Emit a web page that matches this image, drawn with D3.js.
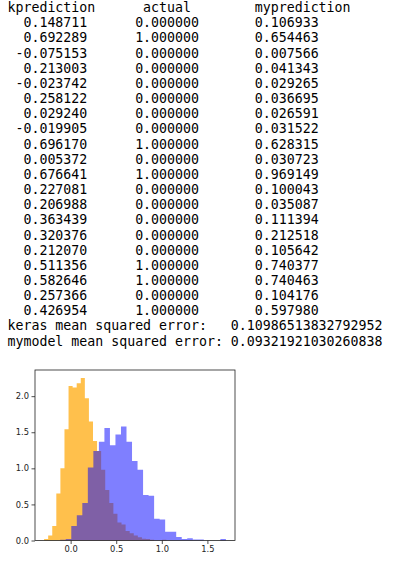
<!DOCTYPE html>
<html><head><meta charset="utf-8">
<script src="https://cdn.jsdelivr.net/npm/d3@7"></script>
<style>html,body{margin:0;padding:0;background:#fff;} svg{display:block;}</style>
</head><body><div id="chart"></div>
<script>
// ---- printed table data ----
const kprediction = [0.148711, 0.692289, -0.075153, 0.213003, -0.023742, 0.258122, 0.029240, -0.019905, 0.696170, 0.005372, 0.676641, 0.227081, 0.206988, 0.363439, 0.320376, 0.212070, 0.511356, 0.582646, 0.257366, 0.426954];
const actual = [0, 1, 0, 0, 0, 0, 0, 0, 1, 0, 1, 0, 0, 0, 0, 0, 1, 1, 0, 1];
const myprediction = [0.106933, 0.654463, 0.007566, 0.041343, 0.029265, 0.036695, 0.026591, 0.031522, 0.628315, 0.030723, 0.969149, 0.100043, 0.035087, 0.111394, 0.212518, 0.105642, 0.740377, 0.740463, 0.104176, 0.597980];
const columnNames = ["kprediction", "actual", "myprediction"];
const kerasMSE = "0.10986513832792952";
const mymodelMSE = "0.09321921030260838";

// ---- histogram data (density, 30 bins each) ----
const orangeRange = [-0.291, 1.050];
const orangeDensity = [0.02, 0.07, 0.20, 0.65, 1.00, 1.54, 2.14, 2.12, 2.18, 2.25,
                       1.97, 1.65, 1.38, 1.24, 0.98, 0.70, 0.52, 0.37, 0.25, 0.22,
                       0.13, 0.10, 0.07, 0.045, 0.025, 0.02, 0.01, 0, 0, 0.01];
const blueRange = [-0.114, 1.703];
const blueDensity = [0.01, 0.02, 0.20, 0.35, 0.52, 1.01, 1.24, 1.37, 1.56, 1.32,
                     1.47, 1.58, 1.37, 1.10, 0.98, 0.63, 0.62, 0.30, 0.29, 0.12,
                     0.12, 0.05, 0.02, 0.03, 0.015, 0.015, 0, 0, 0, 0.02];
const xTicks = [0, 0.5, 1.0, 1.5];
const yTicks = [0, 0.5, 1.0, 1.5, 2.0];

const W = 399, H = 564;
const svg = d3.select("#chart").append("svg").attr("width", W).attr("height", H);

// ---- text block ----
const lh = 15.16, base0 = 12.1, tx = 7.5;
const lines = [];
lines.push(columnNames[0] + " ".repeat(6) + columnNames[1] + " ".repeat(8) + columnNames[2]);
for (let i = 0; i < kprediction.length; i++) {
  lines.push(kprediction[i].toFixed(6).padStart(10) + " ".repeat(6) + actual[i].toFixed(6) + " ".repeat(7) + myprediction[i].toFixed(6));
}
lines.push("keras mean squared error:   " + kerasMSE);
lines.push("mymodel mean squared error: " + mymodelMSE);

svg.append("g").selectAll("text").data(lines).join("text")
  .attr("x", tx).attr("y", (d, i) => base0 + i * lh)
  .attr("xml:space", "preserve")
  .style("white-space", "pre")
  .attr("font-family", "'DejaVu Sans Mono', monospace")
  .attr("font-size", 13.25)
  .attr("fill", "#000")
  .text(d => d);

// ---- histogram ----
const L = 35, R = 235, T = 370, B = 540.5;
const lo = Math.min(orangeRange[0], blueRange[0]);
const hi = Math.max(orangeRange[1], blueRange[1]);
const pad = 0.05 * (hi - lo);
const x = d3.scaleLinear().domain([lo - pad, hi + pad]).range([L, R]);
const ymax = d3.max(orangeDensity.concat(blueDensity)) * 1.05;
const y = d3.scaleLinear().domain([0, ymax]).range([B, T]);

function stepData(range, dens) {
  const n = dens.length;
  return d3.range(n + 1).map(i => ({
    e: range[0] + (range[1] - range[0]) * i / n,
    h: i < n ? dens[i] : 0
  }));
}
const area = d3.area().curve(d3.curveStepAfter)
  .x(d => x(d.e)).y0(y(0)).y1(d => y(d.h));

svg.append("path").datum(stepData(orangeRange, orangeDensity))
  .attr("d", area).attr("fill", "orange").attr("fill-opacity", 0.7);
svg.append("path").datum(stepData(blueRange, blueDensity))
  .attr("d", area).attr("fill", "blue").attr("fill-opacity", 0.5);

// axes
const xAxis = d3.axisBottom(x).tickValues(xTicks).tickFormat(d3.format(".1f")).tickSize(3.5).tickPadding(2.5);
const yAxis = d3.axisLeft(y).tickValues(yTicks).tickFormat(d3.format(".1f")).tickSize(3.5).tickPadding(2.5);
const gx = svg.append("g").attr("transform", `translate(0,${B})`).call(xAxis);
const gy = svg.append("g").attr("transform", `translate(${L},0)`).call(yAxis);
[gx, gy].forEach(g => {
  g.select(".domain").remove();
  g.selectAll(".tick line").attr("stroke", "#222").attr("stroke-width", 0.8);
  g.selectAll(".tick text").attr("font-family", "'DejaVu Sans', sans-serif").attr("font-size", 8.3).attr("fill", "#222");
});

svg.append("rect").attr("x", L).attr("y", T).attr("width", R - L).attr("height", B - T)
  .attr("fill", "none").attr("stroke", "#222").attr("stroke-width", 0.8);
</script>
</body></html>
